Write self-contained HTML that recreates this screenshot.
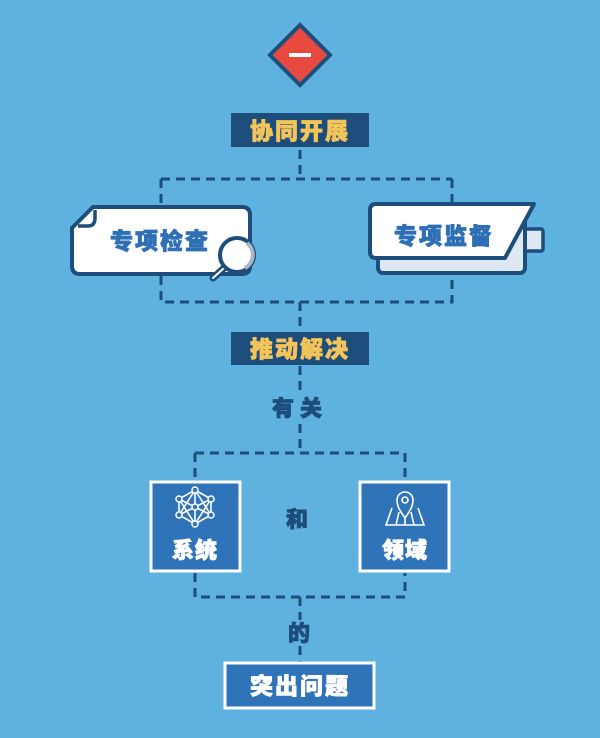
<!DOCTYPE html>
<html><head><meta charset="utf-8"><style>
html,body{margin:0;padding:0;background:#5fb1df;}
svg{display:block}
text{font-family:"Liberation Sans","Noto Sans CJK SC",sans-serif;font-weight:900;stroke-width:0.8;}
</style></head><body>
<svg width="600" height="738" viewBox="0 0 600 738" xmlns="http://www.w3.org/2000/svg">
<rect width="600" height="738" fill="#5fb1df"/>
<g stroke="#1d4e7b" stroke-width="3" fill="none" stroke-dasharray="9 6">
<path d="M300 150V179M161 179H452M161 179V205M452 179V205"/>
<path d="M161 276V302H452V276M300 302V333"/>
<path d="M300 366V392M300 424V453M195 453H405M195 453V481M405 453V481"/>
<path d="M195 573V597H405V573M300 597V620M300 646V662"/>
</g>
<polygon points="300,25 330,55 300,85 270,55" fill="#e8493f" stroke="#1d4e7b" stroke-width="4"/>
<rect x="289" y="53" width="22" height="4" fill="#fff"/>
<rect x="231" y="113" width="138" height="34" fill="#1d4e7b"/>
<text x="300" y="139" text-anchor="middle" font-size="23" fill="#f3c45a" stroke="#f3c45a" letter-spacing="2">协同开展</text>
<rect x="231" y="332" width="138" height="33" fill="#1d4e7b"/>
<text x="300" y="357" text-anchor="middle" font-size="23" fill="#f3c45a" stroke="#f3c45a" letter-spacing="2">推动解决</text>
<text x="300" y="416" text-anchor="middle" font-size="22" fill="#1d4e7b" stroke="#1d4e7b" letter-spacing="6">有关</text>
<text x="297" y="527" text-anchor="middle" font-size="22" fill="#1d4e7b" stroke="#1d4e7b">和</text>
<text x="299" y="641" text-anchor="middle" font-size="22" fill="#1d4e7b" stroke="#1d4e7b">的</text>
<path d="M93 207H242Q250 207 250 215V266Q250 274 242 274H80Q72 274 72 266V228Z" fill="#fff" stroke="#1d4e7b" stroke-width="4"/>
<path d="M78 226H88Q95 226 95 218V210" fill="none" stroke="#1d4e7b" stroke-width="3.5"/>
<text x="160" y="249" text-anchor="middle" font-size="23" fill="#2f6fb5" stroke="#2f6fb5" letter-spacing="2">专项检查</text>
<line x1="224" y1="268" x2="213" y2="278" stroke="#1d4e7b" stroke-width="7" stroke-linecap="round"/>
<line x1="224" y1="268" x2="213" y2="278" stroke="#fff" stroke-width="2" stroke-linecap="round"/>
<circle cx="237" cy="255" r="17" fill="#fff" stroke="#1d4e7b" stroke-width="4"/>
<path d="M247 243A15 15 0 0 1 245 268" fill="none" stroke="#a9b8c8" stroke-width="4"/>
<rect x="523" y="229" width="20" height="22" rx="2" fill="#dde8f3" stroke="#1d4e7b" stroke-width="3.5"/>
<rect x="378" y="215" width="147" height="58" rx="5" fill="#dde8f3" stroke="#1d4e7b" stroke-width="4"/>
<path d="M376 204H534L505 258H376Q370 258 370 252V210Q370 204 376 204Z" fill="#fff" stroke="#1d4e7b" stroke-width="4" stroke-linejoin="round"/>
<text x="444" y="244" text-anchor="middle" font-size="23" fill="#2f6fb5" stroke="#2f6fb5" letter-spacing="2">专项监督</text>
<rect x="151" y="482" width="89" height="89" fill="#2f73b8" stroke="#fff" stroke-width="3"/>
<g stroke="#fff" stroke-width="1.6" fill="none">
<polygon points="195,490 211,499 211,515 195,524 179,515 179,499"/>
<path d="M195 490L195 524M179 499L211 515M211 499L179 515M195 490L179 515M195 490L211 515M179 499L195 524M211 499L195 524"/>
</g>
<g fill="#2f73b8" stroke="#fff" stroke-width="1.5">
<circle cx="195" cy="490" r="3"/><circle cx="211" cy="499" r="3"/><circle cx="211" cy="515" r="3"/>
<circle cx="195" cy="524" r="3"/><circle cx="179" cy="515" r="3"/><circle cx="179" cy="499" r="3"/><circle cx="195" cy="507" r="3"/>
</g>
<text x="195" y="558" text-anchor="middle" font-size="22" fill="#fff" stroke="#fff" letter-spacing="1">系统</text>
<rect x="360" y="482" width="89" height="89" fill="#2f73b8" stroke="#fff" stroke-width="3"/>
<g stroke="#fff" stroke-width="1.6" fill="none">
<path d="M392 508L386 525H424L418 508"/>
<path d="M399 512L396 525M411 512L414 525M405 515V525"/>
<path d="M405 518C398 508 397 505 397 500A8 8 0 0 1 413 500C413 505 412 508 405 518Z" fill="#2f73b8"/>
<circle cx="405" cy="500" r="3"/>
</g>
<text x="405" y="558" text-anchor="middle" font-size="22" fill="#fff" stroke="#fff" letter-spacing="1">领域</text>
<rect x="225" y="663" width="149" height="45" fill="#2f73b8" stroke="#fff" stroke-width="3"/>
<text x="300" y="694" text-anchor="middle" font-size="23" fill="#fff" stroke="#fff" letter-spacing="2">突出问题</text>
</svg>
</body></html>
